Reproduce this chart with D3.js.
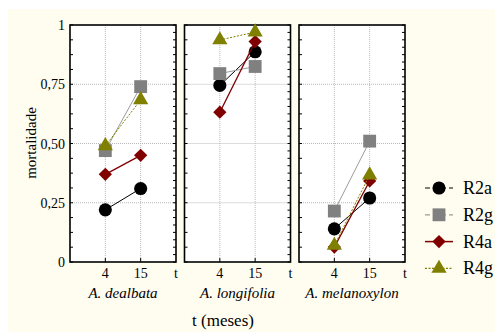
<!DOCTYPE html>
<html>
<head>
<meta charset="utf-8">
<script src="https://cdn.jsdelivr.net/npm/d3@7"></script>
<style>
  body { margin: 0; background: #fff; }
  svg { display: block; font-family: "Liberation Serif", "DejaVu Serif", serif; }
</style>
</head>
<body>
<div id="chart"></div>
<script>
// data
let species = ["A. dealbata", "A. longifolia", "A. melanoxylon"];
let times = ["4", "15"];
let seriesNames = ["R2a", "R2g", "R4a", "R4g"];
let r2a = [[0.22, 0.31], [0.745, 0.887], [0.14, 0.27]];
let r2g = [[0.47, 0.74], [0.795, 0.825], [0.215, 0.51]];
let r4a = [[0.37, 0.45], [0.632, 0.93], [0.063, 0.342]];
let r4g = [[0.49, 0.684], [0.937, 0.97], [0.07, 0.367]];
let yTicks = [0, 0.25, 0.5, 0.75, 1];
let yTickLabels = ["0", "0,25", "0,50", "0,75", "1"];

let seriesValues = [r2a, r2g, r4a, r4g];
let styles = [
  { color: "#000000", line: "#000000", symbol: d3.symbolCircle, size: 135, rot: 0, dash: null, legendDash: "5,3" },
  { color: "#808080", line: "#9a9a9a", symbol: d3.symbolSquare, size: 165, rot: 0, dash: null, legendDash: "5,3" },
  { color: "#800000", line: "#800000", symbol: d3.symbolSquare, size: 88, rot: 45, dash: null, legendDash: null },
  { color: "#808000", line: "#808000", symbol: d3.symbolTriangle, size: 100, rot: 0, dash: "2,1.5", legendDash: "2,1.5" }
];

let width = 495, height = 332;
let plotTop = 25, plotBottom = 262, panelW = 106;

let svg = d3.select("#chart").append("svg")
    .attr("width", width)
    .attr("height", height);

svg.append("rect")
    .attr("x", 8).attr("y", 9)
    .attr("width", width - 8).attr("height", height - 9)
    .attr("fill", "#fffcf0");

let panelX = d3.scalePoint()
    .domain(species)
    .range([70, 299]);

let y = d3.scaleLinear()
    .domain([0, 1])
    .range([plotBottom, plotTop]);

let x = d3.scalePoint()
    .domain(["", "4", "15", "t"])
    .range([0, panelW]);

species.forEach(function(sp, i) {
  let g = svg.append("g")
      .attr("transform", "translate(" + panelX(sp) + ",0)");

  g.append("rect")
      .attr("x", 0).attr("y", plotTop)
      .attr("width", panelW).attr("height", plotBottom - plotTop)
      .attr("fill", "#fff");

  // grid
  g.selectAll(".hgrid")
      .data([0.25, 0.5, 0.75])
    .enter().append("line")
      .attr("x1", 0).attr("x2", panelW)
      .attr("y1", d => y(d)).attr("y2", d => y(d))
      .attr("stroke", "#b8b8b8").attr("stroke-width", 1)
      .attr("stroke-dasharray", "1,1");

  g.selectAll(".vgrid")
      .data(times)
    .enter().append("line")
      .attr("x1", d => x(d)).attr("x2", d => x(d))
      .attr("y1", plotTop).attr("y2", plotBottom)
      .attr("stroke", "#b8b8b8").attr("stroke-width", 1)
      .attr("stroke-dasharray", "1,1");

  // minor ticks
  let leftTicks = d3.range(0, 1.0001, 1 / 16);
  let rightTicks = d3.range(0, 1.0001, 1 / 32);
  g.selectAll(".lt")
      .data(leftTicks)
    .enter().append("line")
      .attr("x1", 0).attr("x2", 3)
      .attr("y1", d => y(d)).attr("y2", d => y(d))
      .attr("stroke", "#000");
  g.selectAll(".rt")
      .data(rightTicks)
    .enter().append("line")
      .attr("x1", panelW - 3).attr("x2", panelW)
      .attr("y1", d => y(d)).attr("y2", d => y(d))
      .attr("stroke", "#000");
  g.selectAll(".bt")
      .data(times)
    .enter().append("line")
      .attr("x1", d => x(d)).attr("x2", d => x(d))
      .attr("y1", plotBottom).attr("y2", plotBottom - 4)
      .attr("stroke", "#000");

  g.append("rect")
      .attr("x", 0).attr("y", plotTop)
      .attr("width", panelW).attr("height", plotBottom - plotTop)
      .attr("fill", "none")
      .attr("stroke", "#000").attr("stroke-width", 1.6);

  // x tick labels
  g.selectAll(".xl")
      .data(["4", "15", "t"])
    .enter().append("text")
      .attr("x", d => x(d))
      .attr("y", 278)
      .attr("text-anchor", "middle")
      .attr("font-size", 14)
      .text(d => d);

  g.append("text")
      .attr("x", panelW / 2)
      .attr("y", 298)
      .attr("text-anchor", "middle")
      .attr("font-size", 15)
      .attr("font-style", "italic")
      .text(sp);

  // series
  seriesValues.forEach(function(vals, s) {
    let st = styles[s];
    let pts = vals[i].map((v, k) => [x(times[k]), y(v)]);
    g.append("path")
        .attr("d", d3.line()(pts))
        .attr("fill", "none")
        .attr("stroke", st.line)
        .attr("stroke-width", s === 2 ? 1.3 : 1)
        .attr("stroke-dasharray", st.dash);
    g.selectAll(".m" + s)
        .data(pts)
      .enter().append("path")
        .attr("transform", d => "translate(" + d[0] + "," + d[1] + ") rotate(" + st.rot + ")")
        .attr("d", d3.symbol().type(st.symbol).size(st.size))
        .attr("fill", st.color);
  });
});

// y axis labels
svg.selectAll(".yl")
    .data(yTicks)
  .enter().append("text")
    .attr("x", 65)
    .attr("y", d => y(d) + 5)
    .attr("text-anchor", "end")
    .attr("font-size", 14)
    .text((d, k) => yTickLabels[k]);

svg.append("text")
    .attr("transform", "translate(36,143) rotate(-90)")
    .attr("text-anchor", "middle")
    .attr("font-size", 15)
    .text("mortalidade");

svg.append("text")
    .attr("x", 223)
    .attr("y", 326)
    .attr("text-anchor", "middle")
    .attr("font-size", 17)
    .text("t (meses)");

// legend
let legend = svg.selectAll(".leg")
    .data(seriesNames)
  .enter().append("g")
    .attr("transform", (d, k) => "translate(0," + (188 + k * 26.8) + ")");

legend.append("line")
    .attr("x1", 425).attr("x2", 453)
    .attr("stroke", (d, k) => styles[k].line)
    .attr("stroke-width", (d, k) => k === 2 ? 1.5 : 1.2)
    .attr("stroke-dasharray", (d, k) => styles[k].legendDash);

legend.append("path")
    .attr("transform", (d, k) => "translate(439,0) rotate(" + styles[k].rot + ")")
    .attr("d", (d, k) => d3.symbol().type(styles[k].symbol).size(styles[k].size)())
    .attr("fill", (d, k) => styles[k].color);

legend.append("text")
    .attr("x", 463)
    .attr("y", 6)
    .attr("font-size", 18)
    .text(d => d);
</script>
</body>
</html>
